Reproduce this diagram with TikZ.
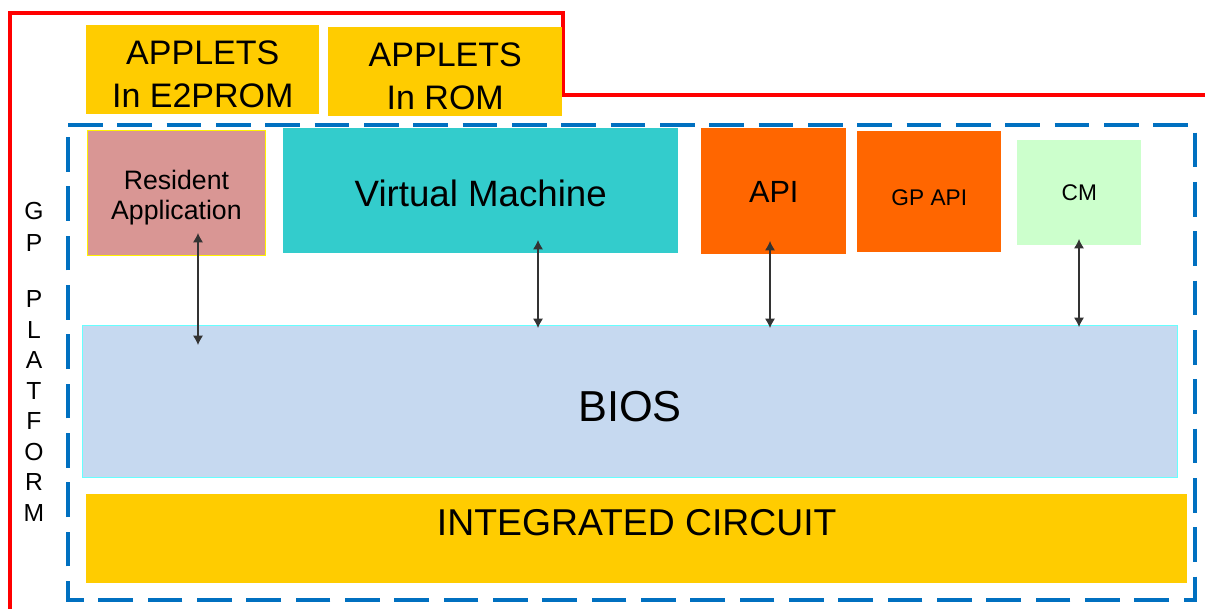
\documentclass[tikz,border=0pt]{standalone}
\usepackage{fontspec}
\setmainfont{Liberation Sans}
\definecolor{gold}{HTML}{FFCC00}
\definecolor{rose}{HTML}{D99694}
\definecolor{teal}{HTML}{33CCCC}
\definecolor{orng}{HTML}{FF6600}
\definecolor{mint}{HTML}{CCFFCC}
\definecolor{biosblue}{HTML}{C6D9F0}
\definecolor{cyanline}{HTML}{66FFFF}
\definecolor{dashblue}{HTML}{0070C0}
\usetikzlibrary{arrows.meta}
% text placed with its (last) baseline #1 above the node centre
\newcommand{\twoline}[3]{\smash{\raisebox{#1}{\begin{tabular}[b]{@{}c@{}}#2\\#3\end{tabular}}}}
\newcommand{\oneline}[2]{\smash{\raisebox{#1}{#2}}}
\tikzset{
  blk/.style={minimum width=#1, inner sep=0pt, anchor=north west, align=center, text=black},
  arr/.style={<->, >={Latex[length=7pt,width=7.5pt]}, line width=0.8pt, draw=black!80},
  fsz/.style={font=\fontsize{#1}{#1}\selectfont},
}
\begin{document}
\begin{tikzpicture}[x=0.75pt,y=-0.75pt]
\useasboundingbox (0,0) rectangle (1205,609);
% red outline
\draw[red, line width=3.2pt] (10,609) -- (10,13) -- (563,13) -- (563,95) -- (1205,95);
% blue dashed frame
\draw[dashblue, line width=3.5pt, dash pattern=on 26pt off 11pt] (68,125) -- (1195,125) -- (1195,600) -- (68,600) -- cycle;
% applets
\node[blk=233*0.75pt, minimum height=89*0.75pt, fill=gold, font=\fontsize{25.5}{32}\selectfont] (e2) at (86,25) {\twoline{-28.2pt}{APPLETS}{In E2PROM}};
\node[blk=234*0.75pt, minimum height=89*0.75pt, fill=gold, font=\fontsize{25.5}{32}\selectfont] (rom) at (328,27) {\twoline{-28.2pt}{APPLETS}{In ROM}};
% top blocks
\node[blk=178*0.75pt, minimum height=125*0.75pt, fill=rose, draw=yellow, line width=0.6pt, font=\fontsize{20}{22.5}\selectfont] (res) at (87,130) {\twoline{-20.3pt}{Resident}{Application}};
\node[blk=395*0.75pt, minimum height=125*0.75pt, fill=teal, fsz=27.5] (vm) at (283,128) {\oneline{-11.7pt}{Virtual Machine}};
\node[blk=145*0.75pt, minimum height=126*0.75pt, fill=orng, fsz=23] (api) at (701,128) {\oneline{-8.2pt}{API}};
\node[blk=144*0.75pt, minimum height=121*0.75pt, fill=orng, fsz=17] (gpapi) at (857,131) {\oneline{-10.2pt}{GP API}};
\node[blk=124*0.75pt, minimum height=105*0.75pt, fill=mint, fsz=17] (cm) at (1017,140) {\oneline{-6.1pt}{CM}};
% BIOS
\node[blk=1095*0.75pt, minimum height=152*0.75pt, fill=biosblue, draw=cyanline, line width=0.8pt, fsz=32.5] (bios) at (82,325) {\oneline{-14.6pt}{BIOS}};
% IC
\node[blk=1101*0.75pt, minimum height=89*0.75pt, fill=gold, fsz=28] (ic) at (86,494) {\oneline{2.4pt}{INTEGRATED CIRCUIT}};
% GP PLATFORM
\node[align=center, inner sep=0pt, font=\fontsize{18.5}{22.9}\selectfont] (gp) at (34,362) {G\\[1pt]P\\[19pt]P\\L\\A\\T\\F\\O\\R\\M};
% arrows
\coordinate (r1) at (198,233); \coordinate (r2) at (198,345);
\coordinate (v1) at (538,240); \coordinate (v2) at (538,328);
\coordinate (a1) at (770,241); \coordinate (a2) at (770,328);
\coordinate (c1) at (1079,239); \coordinate (c2) at (1079,327);
\draw[arr] (r1) -- (r2);
\draw[arr] (v1) -- (v2);
\draw[arr] (a1) -- (a2);
\draw[arr] (c1) -- (c2);
\end{tikzpicture}
\end{document}
